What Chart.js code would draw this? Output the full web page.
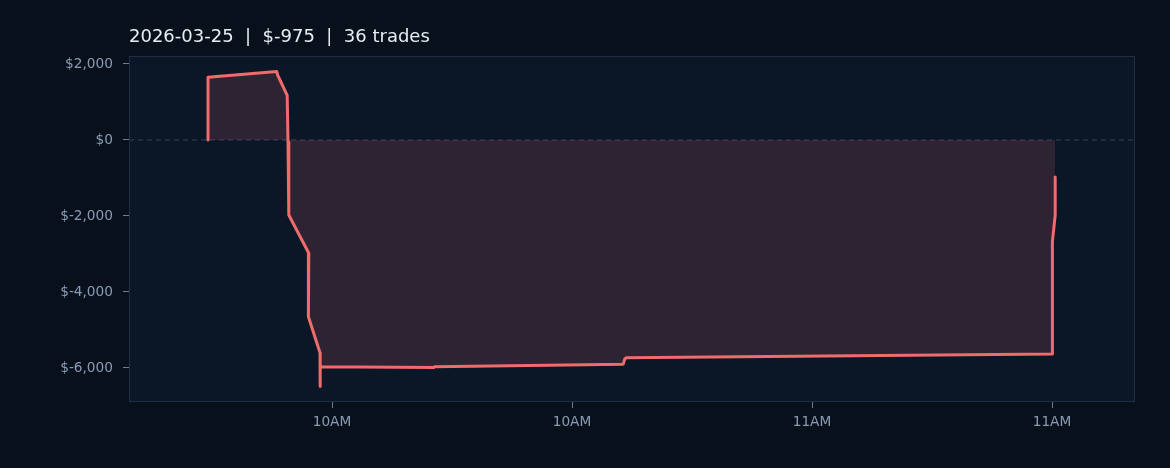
<!DOCTYPE html>
<html>
<head>
<meta charset="utf-8">
<script src="https://cdn.jsdelivr.net/npm/chart.js@4/dist/chart.umd.min.js"></script>
<style>
  html, body { margin: 0; padding: 0; background: #08101c; }
  #wrap { width: 1170px; height: 468px; }
</style>
</head>
<body>
<div id="wrap"><canvas id="pnl"></canvas></div>
<script>
// trade times, minutes since midnight
const tradeMinutes = [584.5, 584.5, 593.1, 593.2, 594.4, 594.5, 594.6, 597.1, 597.05, 598.5, 598.5, 598.55,
    612.7, 612.8, 636.4, 636.6, 636.8, 690.0, 690.05, 690.4, 690.4];
// cumulative P&L in dollars
const cumPnl = [0, 1650, 1800, 1710, 1175, -50, -1975, -2980, -4650, -5600, -6490, -5965,
    -5990, -5970, -5900, -5760, -5730, -5630, -2675, -1975, -975];
const xTicks = [600, 630, 660, 690];
const xTickLabels = ['10AM', '10AM', '11AM', '11AM'];
const yTicks = [-6000, -4000, -2000, 0, 2000];
const titleText = '2026-03-25  |  $-975  |  36 trades';

const points = tradeMinutes.map((t, i) => ({x: t, y: cumPnl[i]}));

const frame = {
    id: 'frame',
    beforeDraw(chart) {
        const {ctx, chartArea: a} = chart;
        ctx.save();
        ctx.fillStyle = '#0b1627';
        ctx.fillRect(a.left, a.top, a.right - a.left, a.bottom - a.top);
        // dashed zero line
        const y0 = chart.scales.y.getPixelForValue(0);
        ctx.strokeStyle = '#34455c';
        ctx.lineWidth = 1;
        ctx.setLineDash([5, 4]);
        ctx.beginPath();
        ctx.moveTo(a.left, y0);
        ctx.lineTo(a.right, y0);
        ctx.stroke();
        ctx.restore();
    },
    afterDraw(chart) {
        const {ctx, chartArea: a} = chart;
        ctx.save();
        ctx.strokeStyle = '#1f2e45';
        ctx.lineWidth = 1;
        ctx.strokeRect(a.left + 0.5, a.top + 0.5, a.right - a.left - 1, a.bottom - a.top - 1);
        ctx.fillStyle = '#e6edf3';
        ctx.font = '18px "DejaVu Sans"';
        ctx.textBaseline = 'middle';
        ctx.fillText(titleText, a.left, 37);
        ctx.restore();
    }
};

new Chart(document.getElementById('pnl'), {
    type: 'line',
    data: {
        datasets: [{
            data: points,
            borderColor: '#f06b6b',
            borderWidth: 3,
            backgroundColor: 'rgba(248,113,113,0.15)',
            fill: 'origin',
            pointRadius: 0,
            tension: 0,
            borderJoinStyle: 'round',
            borderCapStyle: 'round'
        }]
    },
    options: {
        responsive: true,
        maintainAspectRatio: false,
        animation: false,
        layout: {padding: {top: 56, right: 35, left: 0, bottom: 0}},
        plugins: {legend: {display: false}, tooltip: {enabled: false}, title: {display: false}},
        scales: {
            x: {
                type: 'linear',
                min: 574.625,
                max: 700.375,
                afterFit(s) { s.height = 66; },
                afterBuildTicks(s) { s.ticks = xTicks.map(v => ({value: v})); },
                grid: {drawOnChartArea: false, drawTicks: true, tickLength: 6, color: '#6b7b93'},
                border: {display: false},
                ticks: {
                    color: '#8a9bb4',
                    font: {family: 'DejaVu Sans', size: 13.7},
                    padding: 6,
                    maxRotation: 0,
                    callback: (v) => xTickLabels[xTicks.indexOf(v)]
                }
            },
            y: {
                min: -6895,
                max: 2210,
                afterFit(s) { s.width = 129; },
                afterBuildTicks(s) { s.ticks = yTicks.map(v => ({value: v})); },
                grid: {drawOnChartArea: false, drawTicks: true, tickLength: 6, color: '#6b7b93'},
                border: {display: false},
                ticks: {
                    color: '#8a9bb4',
                    font: {family: 'DejaVu Sans', size: 13.7},
                    padding: 10,
                    callback: (v) => (v < 0 ? '$-' : '$') + Math.abs(v).toLocaleString('en-US')
                }
            }
        }
    },
    plugins: [frame]
});
</script>
</body>
</html>
